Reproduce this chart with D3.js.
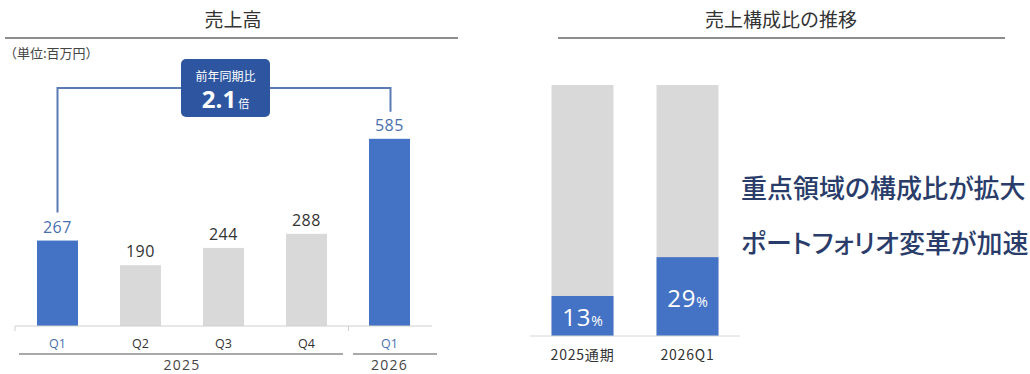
<!DOCTYPE html>
<html lang="ja">
<head>
<meta charset="utf-8">
<script src="https://cdn.jsdelivr.net/npm/d3@7"></script>
<style>
  html, body { margin: 0; padding: 0; background: #fff; }
  svg { display: block; font-family: "Noto Sans CJK JP", "Noto Sans", sans-serif; }
  .msg { font-feature-settings: "palt"; }
</style>
</head>
<body>
<svg id="chart" width="1030" height="374"></svg>
<script>
// Quarterly sales (millions of yen)
const quarters = ["Q1", "Q2", "Q3", "Q4", "Q1"];
const fiscalYears = ["2025", "2025", "2025", "2025", "2026"];
const sales = [267, 190, 244, 288, 585];
const highlighted = [true, false, false, false, true];
const yoyLabel = "前年同期比";
const yoyValue = "2.1";
const yoyUnit = "倍";

// Sales mix: share of focus areas (%)
const mixCategories = ["2025通期", "2026Q1"];
const focusShare = [13, 29];

const messages = ["重点領域の構成比が拡大", "ポートフォリオ変革が加速"];

const BLUE = "#4472c4";
const GREY = "#d9d9d9";
const LABEL_BLUE = "#4a6fae";
const TEXT = "#333";
const NUM_FONT = "'Open Sans', 'Noto Sans', sans-serif";

const svg = d3.select("#chart");

// ---------- Left panel: 売上高 ----------
const left = svg.append("g");

left.append("text").attr("x", 233).attr("y", 27).attr("text-anchor", "middle")
  .attr("font-size", 19).attr("fill", TEXT).text("売上高");
left.append("line").attr("x1", 5).attr("x2", 458).attr("y1", 38).attr("y2", 38)
  .attr("stroke", "#666").attr("stroke-width", 1.5);
left.append("text").attr("x", 4).attr("y", 58).attr("font-size", 13).attr("fill", "#444")
  .text("（単位:百万円）");

const idx = d3.range(sales.length);
const x = d3.scaleBand().domain(idx).range([16, 431]).paddingInner(0.506).paddingOuter(0.253);
const y = d3.scaleLinear().domain([0, 600]).range([326, 134]);

left.selectAll("rect.sale").data(idx).join("rect")
  .attr("class", "sale")
  .attr("x", i => x(i))
  .attr("width", x.bandwidth())
  .attr("y", i => y(sales[i]))
  .attr("height", i => y(0) - y(sales[i]))
  .attr("fill", i => highlighted[i] ? BLUE : GREY);

left.selectAll("text.val").data(idx).join("text")
  .attr("class", "val")
  .attr("x", i => x(i) + x.bandwidth() / 2)
  .attr("y", i => y(sales[i]) - 8)
  .attr("text-anchor", "middle")
  .attr("font-size", 16)
  .attr("font-family", NUM_FONT)
  .attr("letter-spacing", 0.6)
  .attr("fill", i => highlighted[i] ? LABEL_BLUE : TEXT)
  .text(i => sales[i]);

// baseline and group separators
left.append("line").attr("x1", 15).attr("x2", 432).attr("y1", y(0)).attr("y2", y(0))
  .attr("stroke", "#cfcfcf").attr("stroke-width", 1);
const sepX = (x(3) + x.bandwidth() + x(4)) / 2 + 0.5;
[15, sepX].forEach(sx => left.append("line").attr("x1", sx).attr("x2", sx)
  .attr("y1", y(0)).attr("y2", y(0) + 5).attr("stroke", "#cfcfcf"));

// quarter axis
const xAxis = d3.axisBottom(x).tickSize(0).tickFormat(i => quarters[i]);
const axisG = left.append("g").attr("transform", `translate(0,${y(0)})`).call(xAxis);
axisG.select(".domain").remove();
axisG.selectAll("text")
  .attr("dy", 0).attr("y", 22)
  .attr("font-size", 12.5)
  .attr("font-family", NUM_FONT)
  .attr("fill", (i) => highlighted[i] ? LABEL_BLUE : TEXT);

// fiscal year groups
const groups = d3.groups(idx, i => fiscalYears[i]);
const groupSpan = {
  "2025": [19, 343],
  "2026": [353, 437]
};
groups.forEach(([yr, members]) => {
  const [gx0, gx1] = groupSpan[yr];
  left.append("line").attr("x1", gx0).attr("x2", gx1).attr("y1", 354).attr("y2", 354)
    .attr("stroke", "#555").attr("stroke-width", 1.2);
  const cx = members.length > 1
    ? (x(members[0]) + x(members[members.length - 1]) + x.bandwidth()) / 2
    : x(members[0]) + x.bandwidth() / 2;
  left.append("text").attr("x", cx).attr("y", 370).attr("text-anchor", "middle")
    .attr("font-size", 14).attr("letter-spacing", 1.2)
    .attr("font-family", NUM_FONT)
    .attr("fill", "#444").text(yr);
});

// year-over-year bracket
const cxA = x(0) + x.bandwidth() / 2;
const cxB = x(4) + x.bandwidth() / 2 + 1;
const bracketY = 88;
left.append("path")
  .attr("d", `M${cxA},${y(sales[0]) - 28} V${bracketY} H${cxB} V${y(sales[4]) - 27}`)
  .attr("fill", "none").attr("stroke", "#5a7ab3").attr("stroke-width", 2);

const boxW = 89, boxH = 58, boxCx = 225.5;
left.append("rect").attr("x", boxCx - boxW / 2).attr("y", 59).attr("width", boxW).attr("height", boxH)
  .attr("rx", 5).attr("fill", "#2e56a0");
left.append("text").attr("x", boxCx).attr("y", 81).attr("text-anchor", "middle")
  .attr("font-size", 12).attr("fill", "#fff").text(yoyLabel);
const big = left.append("text").attr("x", boxCx).attr("y", 108).attr("text-anchor", "middle")
  .attr("fill", "#fff");
big.append("tspan").attr("font-size", 24).attr("font-weight", 700)
  .attr("font-family", NUM_FONT).text(yoyValue);
big.append("tspan").attr("font-size", 11).attr("dx", 2).text(yoyUnit);

// ---------- Right panel: 売上構成比の推移 ----------
const right = svg.append("g");

right.append("text").attr("x", 781).attr("y", 27).attr("text-anchor", "middle")
  .attr("font-size", 19).attr("fill", TEXT).text("売上構成比の推移");
right.append("line").attr("x1", 558).attr("x2", 1005).attr("y1", 38).attr("y2", 38)
  .attr("stroke", "#666").attr("stroke-width", 1.5);

const mx = d3.scaleBand().domain(mixCategories).range([530, 740]).paddingInner(0.41).paddingOuter(0.205);
const my = d3.scaleLinear().domain([-3.5, 100]).range([336, 85]);
const base = my.range()[0];

right.selectAll("rect.total").data(mixCategories).join("rect")
  .attr("class", "total")
  .attr("x", c => mx(c)).attr("width", mx.bandwidth())
  .attr("y", my(100)).attr("height", base - my(100))
  .attr("fill", GREY);

right.selectAll("rect.focus").data(mixCategories).join("rect")
  .attr("class", "focus")
  .attr("x", c => mx(c)).attr("width", mx.bandwidth())
  .attr("y", (c, i) => my(focusShare[i]))
  .attr("height", (c, i) => base - my(focusShare[i]))
  .attr("fill", BLUE);

const pct = right.selectAll("text.pct").data(mixCategories).join("text")
  .attr("class", "pct")
  .attr("x", c => mx(c) + mx.bandwidth() / 2)
  .attr("y", (c, i) => (my(focusShare[i]) + base) / 2 + 10)
  .attr("text-anchor", "middle").attr("fill", "#fff")
  .attr("font-family", NUM_FONT);
pct.append("tspan").attr("font-size", 24).attr("letter-spacing", 0.8).text((c, i) => focusShare[i]);
pct.append("tspan").attr("font-size", 14).text("%");

right.append("line").attr("x1", 530).attr("x2", 740).attr("y1", base).attr("y2", base)
  .attr("stroke", "#d6d6d6");

const mAxis = d3.axisBottom(mx).tickSize(0);
const mAxisG = right.append("g").attr("transform", `translate(0,${base})`).call(mAxis);
mAxisG.select(".domain").remove();
mAxisG.selectAll("text").attr("dy", 0).attr("y", 24)
  .attr("font-size", 14).attr("letter-spacing", 0.8).attr("fill", TEXT)
  .attr("font-family", "'Noto Sans CJK JP', sans-serif");

right.selectAll("text.msg").data(messages).join("text")
  .attr("class", "msg")
  .attr("x", 741).attr("y", (d, i) => 198 + i * 55)
  .attr("font-size", 26).attr("font-weight", 500).attr("fill", "#2a3d6a")
  .text(d => d);
</script>
</body>
</html>
